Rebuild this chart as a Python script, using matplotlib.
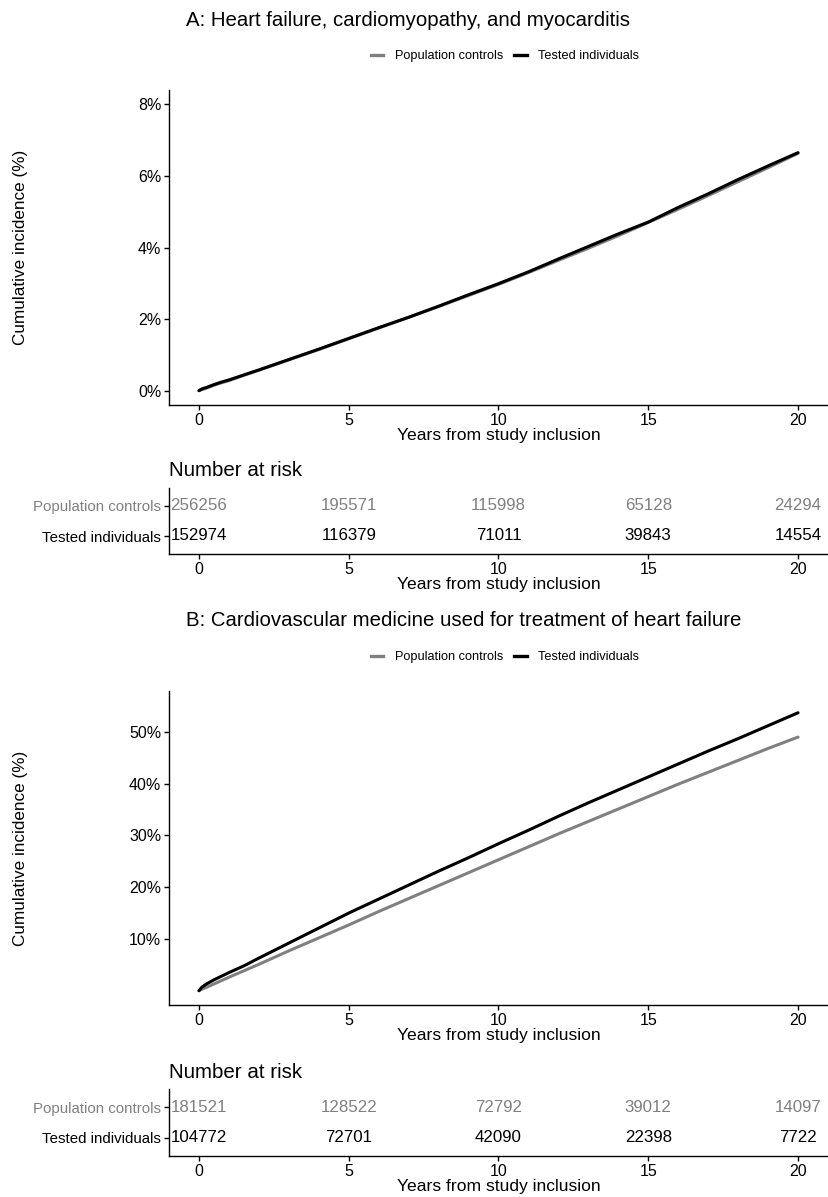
import matplotlib.pyplot as plt
from matplotlib.lines import Line2D
from matplotlib.ticker import FuncFormatter

plt.rcParams['font.family'] = ['Liberation Sans', 'DejaVu Sans']

# ---- data -------------------------------------------------------------
groups = ['Population controls', 'Tested individuals']
group_colors = ['#808080', '#000000']

years = [0, 0.1, 0.25, 0.5, 0.75, 1, 1.5, 2, 3, 4, 5, 6, 7, 8, 9, 10,
         11, 12, 13, 14, 15, 16, 17, 18, 19, 20]

# Panel A: heart failure, cardiomyopathy, myocarditis (cumulative incidence, %)
a_controls = [0, 0.03, 0.07, 0.15, 0.22, 0.28, 0.43, 0.57, 0.86, 1.15, 1.45, 1.75, 2.05,
              2.35, 2.66, 2.97, 3.30, 3.64, 3.98, 4.33, 4.70, 5.07, 5.45, 5.84, 6.23, 6.63]
a_tested = [0, 0.05, 0.09, 0.17, 0.24, 0.30, 0.44, 0.58, 0.87, 1.16, 1.46, 1.76, 2.05,
            2.36, 2.68, 2.99, 3.32, 3.68, 4.03, 4.38, 4.71, 5.12, 5.50, 5.90, 6.28, 6.65]

# Panel B: cardiovascular medicine for heart failure (cumulative incidence, %)
b_controls = [0, 0.3, 0.65, 1.3, 1.95, 2.6, 3.85, 5.1, 7.7, 10.2, 12.7, 15.3, 17.8,
              20.3, 22.8, 25.3, 27.8, 30.3, 32.7, 35.1, 37.5, 39.9, 42.2, 44.5, 46.8, 49.0]
b_tested = [0, 0.7, 1.3, 2.1, 2.8, 3.5, 4.8, 6.3, 9.2, 12.1, 15.0, 17.7, 20.4,
            23.1, 25.7, 28.4, 31.0, 33.7, 36.3, 38.8, 41.3, 43.8, 46.3, 48.7, 51.2, 53.7]

risk_years = [0, 5, 10, 15, 20]
a_risk_controls = [256256, 195571, 115998, 65128, 24294]
a_risk_tested = [152974, 116379, 71011, 39843, 14554]
b_risk_controls = [181521, 128522, 72792, 39012, 14097]
b_risk_tested = [104772, 72701, 42090, 22398, 7722]

a_yticks = [0, 2, 4, 6, 8]
b_yticks = [10, 20, 30, 40, 50]

title_a = 'A: Heart failure, cardiomyopathy, and myocarditis'
title_b = 'B: Cardiovascular medicine used for treatment of heart failure'
xlab = 'Years from study inclusion'
ylab = 'Cumulative incidence (%)'

# ---- figure -------------------------------------------------------------
W, H = 829, 1197
fig = plt.figure(figsize=(W / 100, H / 100), dpi=100)


def fx(px):
    return px / W


def fy(px):
    return 1 - px / H


def style_axes(ax):
    for s in ['top', 'right']:
        ax.spines[s].set_visible(False)
    for s in ['left', 'bottom']:
        ax.spines[s].set_linewidth(1.0)
        ax.spines[s].set_color('black')
    ax.tick_params(axis='both', length=3.5, width=1.0, labelsize=11.5,
                   colors='black', pad=2)
    ax.set_xlim(-1, 21)
    ax.set_xticks(risk_years)


def main_panel(top, bottom, ctrl, test, yticks, ylim):
    ax = fig.add_axes([fx(169), fy(bottom), fx(828 - 169), (bottom - top) / H])
    ax.plot(years, ctrl, color=group_colors[0], lw=2.2, solid_capstyle='round')
    ax.plot(years, test, color=group_colors[1], lw=2.2, solid_capstyle='round')
    style_axes(ax)
    ax.set_ylim(*ylim)
    ax.set_yticks(yticks)
    ax.yaxis.set_major_formatter(FuncFormatter(lambda v, p: f'{v:g}%'))
    ax.set_xlabel(xlab, fontsize=12.6, labelpad=0)
    return ax


def risk_panel(top, bottom, ctrl, test):
    ax = fig.add_axes([fx(169), fy(bottom), fx(828 - 169), (bottom - top) / H])
    style_axes(ax)
    ax.set_ylim(-0.6, 1.6)
    ax.set_yticks([1, 0])
    ax.set_yticklabels(groups, fontsize=10.8)
    for lbl, c in zip(ax.get_yticklabels(), group_colors):
        lbl.set_color(c)
    for x, v in zip(risk_years, ctrl):
        ax.text(x, 1, str(v), ha='center', va='center', fontsize=12.2, color=group_colors[0])
    for x, v in zip(risk_years, test):
        ax.text(x, 0, str(v), ha='center', va='center', fontsize=12.2, color=group_colors[1])
    ax.set_xlabel(xlab, fontsize=12.6, labelpad=0)
    return ax


def legend(ypx):
    handles = [Line2D([], [], color=c, lw=2.4) for c in group_colors]
    fig.legend(handles, groups, loc='center', bbox_to_anchor=(fx(505), fy(ypx)),
               ncol=2, frameon=False, fontsize=9.2, handlelength=1.0,
               handletextpad=0.9, columnspacing=0.85)


# Panel A
fig.text(fx(186), fy(20), title_a, fontsize=14.7, ha='left', va='center')
legend(56)
main_panel(90, 405, a_controls, a_tested, a_yticks, (-0.4, 8.4))
fig.text(fx(21), fy(247), ylab, rotation=90, fontsize=12.3, ha='center', va='center')
fig.text(fx(169), fy(470), 'Number at risk', fontsize=14.8, ha='left', va='center')
risk_panel(488, 554, a_risk_controls, a_risk_tested)

# Panel B
fig.text(fx(186), fy(620), title_b, fontsize=14.7, ha='left', va='center')
legend(657)
main_panel(691, 1005, b_controls, b_tested, b_yticks, (-2.76, 57.9))
fig.text(fx(21), fy(848), ylab, rotation=90, fontsize=12.3, ha='center', va='center')
fig.text(fx(169), fy(1072), 'Number at risk', fontsize=14.8, ha='left', va='center')
risk_panel(1089, 1156, b_risk_controls, b_risk_tested)

fig.savefig('out.png', dpi=100)
